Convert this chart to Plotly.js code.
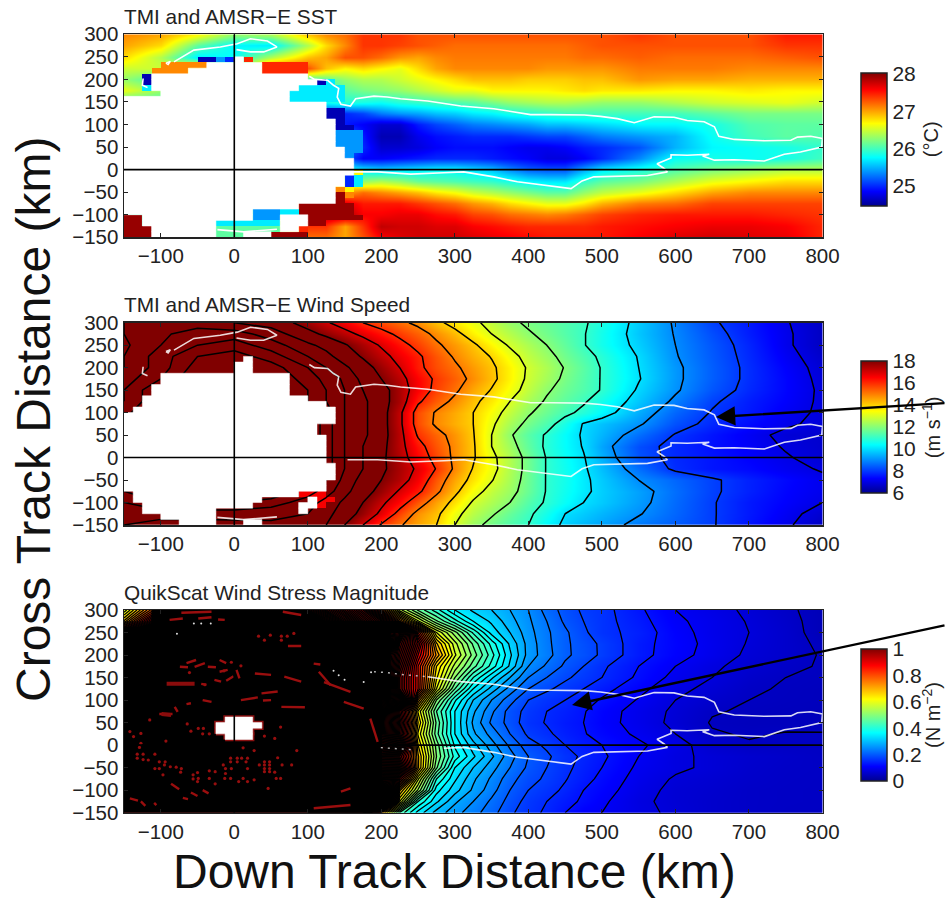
<!DOCTYPE html>
<html>
<head>
<meta charset="utf-8">
<script src="https://cdn.plot.ly/plotly-3.0.1.min.js"></script>
<style>html,body{margin:0;padding:0;background:#fff;overflow:hidden}#chart{width:946px;height:899px}</style>
</head>
<body>
<div id="chart"></div>
<script>
// ---------- grid axes (km) ----------
const gridX = [-150,-100,-50,0,50,100,125,150,175,200,225,250,275,300,325,350,375,400,425,450,475,500,550,600,650,700,750,800];
const gridY = [300,275,250,225,200,175,150,125,100,75,50,25,0,-25,-50,-75,-100,-125,-150];

// ---------- SST (deg C) ----------
const sstZ = [
[27.1,27,26.7,26.3,26.4,26.9,27.1,27.2,27.4,27.4,27.4,27.3,27.3,27.3,27.3,27.3,27.3,27.3,27.3,27.3,27.3,27.3,27.4,27.3,27.3,27.3,27.5,27.5],
[27,26.8,26.1,25.75,25.7,26.4,26.8,27.1,27.4,27.4,27.35,27.3,27.25,27.2,27.2,27.2,27.2,27.2,27.2,27.2,27.25,27.3,27.3,27.3,27.3,27.3,27.4,27.4],
[26.8,26.4,25.7,25.8,26.4,26.9,27,27.3,27.3,27.2,27.05,27,27.1,27.15,27.15,27.15,27.15,27.15,27.15,27.15,27.2,27.2,27.25,27.2,27.2,27.2,27.25,27.3],
[26.5,26.5,26.9,26,27.4,27.3,26.9,26.7,26.8,26.7,26.6,26.8,27,27.1,27.1,27.1,27.1,27.1,27.05,27.05,27.05,27.05,27.15,27.15,27.15,27.1,27.1,27.1],
[26.3,26,26,26,26,26,26.1,26.3,26.4,26.4,26.5,26.6,26.7,26.8,26.9,26.9,26.9,26.85,26.85,26.85,26.9,26.9,27.05,27,27,26.95,26.95,26.95],
[26.6,26.3,26,26,26,25.8,25.8,26.1,26.2,26.25,26.3,26.4,26.5,26.6,26.6,26.7,26.7,26.7,26.7,26.75,26.8,26.75,26.75,26.7,26.7,26.75,26.7,26.7],
[26,26,26,26,26,25.8,25.8,25.9,25.85,25.8,25.9,25.95,26,26.05,26.1,26.2,26.3,26.35,26.4,26.4,26.35,26.3,26.3,26.4,26.5,26.55,26.6,26.5],
[26,26,26,26,26,25,25,25,25.1,25.3,25.4,25.45,25.55,25.6,25.7,25.75,25.85,25.9,25.95,26,26,26,26,26,26.1,26.2,26.2,26.2],
[26,26,26,26,26,24.8,24.8,24.95,24.85,24.7,24.7,24.95,25.1,25.2,25.3,25.35,25.4,25.45,25.55,25.55,25.6,25.65,25.75,25.75,25.85,26.05,26.1,26.1],
[26,26,26,26,26,25.4,25.4,25.4,24.95,24.6,24.6,24.8,24.9,24.95,25,25,25,25.05,25.1,25.1,25.2,25.3,25.4,25.5,25.8,26,26.1,26.05],
[26,26,26,26,26,25.4,25.4,25.4,25,24.7,24.7,24.75,24.85,24.9,24.9,24.9,24.85,24.8,24.8,24.85,24.95,25,25.15,25.5,25.75,25.8,25.85,25.95],
[26,26,26,26,26,25.2,25.2,25.2,24.85,24.85,24.9,24.95,25,25,25,24.95,24.9,24.85,24.75,24.75,24.85,25,25.35,25.8,25.85,25.8,25.85,26],
[26,26,26,26,26,25.8,25.8,25.8,25.7,25.6,25.65,25.7,25.75,25.75,25.65,25.55,25.35,25.2,25.15,25.15,25.45,25.7,25.85,26.05,26.2,26.3,26.4,26.4],
[26,26,26,26,26,26.5,26.5,26.5,26.3,26.4,26.3,26.15,26.1,26.05,26,25.95,25.85,25.75,25.7,25.7,25.95,26.1,26.2,26.4,26.6,26.7,26.8,26.8],
[26,26,26,26,26,27,27,27,27.2,27.1,27,26.9,26.75,26.65,26.5,26.4,26.3,26.2,26.1,26.1,26.3,26.45,26.6,26.8,27,27.1,27.1,27.1],
[26,26,26,26,26,27.7,27.7,27.7,27.5,27.5,27.5,27.4,27.3,27.2,27.05,26.95,26.8,26.7,26.6,26.6,26.75,26.95,27.15,27.2,27.35,27.35,27.35,27.35],
[26,26,26,26,26,27.9,27.9,27.9,27.6,27.6,27.65,27.65,27.55,27.5,27.35,27.3,27.2,27.15,27.1,27.15,27.25,27.35,27.45,27.5,27.5,27.5,27.45,27.4],
[26,26,26,26,26,27.4,27.4,27,27.4,27.8,27.75,27.75,27.7,27.7,27.6,27.55,27.5,27.45,27.45,27.45,27.45,27.5,27.55,27.6,27.65,27.65,27.6,27.45],
[26,26,26,26,26,27.2,27.2,27,27.3,27.6,27.7,27.75,27.75,27.75,27.7,27.65,27.6,27.55,27.5,27.5,27.5,27.5,27.6,27.7,27.75,27.7,27.65,27.45]
];

// ---------- wind speed (m/s) ----------
const windZ = [
[19,19.5,19.5,19,18.6,17.6,17.1,16.6,16,15.6,15.2,14.8,14.2,13.7,13.2,12.7,12.2,11.85,11.6,11.35,11.1,10.7,9.75,8.9,8.1,7.6,7.05,6.6],
[19,19.8,20.5,20.5,19.5,18.3,17.8,17.3,16.8,16.3,15.8,15.35,14.8,14.25,13.6,13,12.55,12.1,11.75,11.4,11.05,10.6,9.7,8.95,8.25,7.65,7.1,6.6],
[18.8,20,21,21.5,20.5,19.2,18.7,18.1,17.5,16.9,16.3,15.75,15.15,14.65,14.15,13.5,12.9,12.45,12,11.55,11.05,10.6,9.8,9,8.35,7.75,7.1,6.6],
[19,20.5,22,22.5,21.5,20,19.3,18.5,17.9,17.3,16.7,16.15,15.5,14.9,14.4,13.95,13.3,12.7,12.25,11.75,11.3,10.85,9.95,9.05,8.4,7.8,7.2,6.7],
[19,20.5,22.5,23,22.5,21,20,19.2,18.4,17.7,17,16.2,15.6,15.15,14.65,14.15,13.55,12.9,12.45,11.95,11.45,10.95,10,9.15,8.45,7.85,7.3,6.8],
[19.5,21,23,23,23,21.5,20.7,19.8,18.7,18,17.3,16.5,15.85,15.35,14.8,14.2,13.55,12.85,12.35,11.85,11.4,10.95,10.05,9.15,8.45,7.85,7.35,6.85],
[20,22,23,23,23,22,21,20,19,18.4,17.5,16.55,15.75,15.15,14.5,13.95,13.35,12.7,12.1,11.7,11.35,10.95,9.9,9.1,8.35,7.8,7.35,6.9],
[20,22,23,23,23,22,21,20,19.2,18.4,17.5,16.15,15.4,14.8,14.2,13.65,13,12.4,11.9,11.5,11.1,10.6,9.7,8.85,8.1,7.65,7.3,6.9],
[20.5,23,23,23,23,22.5,21.5,20,19.2,18.4,17.2,15.6,14.9,14.45,14,13.35,12.7,12.1,11.65,11.2,10.8,10.35,9.4,8.55,7.95,7.6,7.2,6.9],
[22,23,23,23,23,23,21.5,20,19.2,18.4,17.2,15.6,14.85,14.4,14,13.15,12.4,11.8,11.3,10.65,9.95,9.65,9.1,8.3,7.8,7.45,7.1,6.85],
[22,23,23,23,23,23,21.5,20,19.2,18.4,17.3,15.9,15.3,14.7,14.05,13,12.1,11.45,10.9,10.4,9.9,9.5,8.65,7.95,7.55,7.2,6.85,6.75],
[22,23,23,23,23,23,21.5,20,19,18.3,17.3,16.3,15.5,14.8,14.1,13,12.3,11.55,10.85,10.4,9.95,9.3,8.25,7.8,7.5,7.25,6.95,6.75],
[22,23,23,23,23,23,21.5,20,19,18.2,17.4,16.5,15.7,14.8,14.1,13.2,12.5,11.75,10.95,10.5,10.05,9.45,8.3,7.8,7.55,7.3,7.05,6.8],
[22,23,23,23,23,23,21.5,20,19,18.2,17.5,16.85,15.95,14.85,13.95,13.25,12.5,11.75,10.95,10.55,10.1,9.6,8.65,7.85,7.55,7.4,7.15,6.95],
[22,23,23,23,23,23,21,19.7,18.6,18,17.4,16.6,15.5,14.5,13.75,13.05,12.4,11.7,10.95,10.6,10.15,9.75,9,8.55,8.1,7.7,7.4,7.1],
[22,23,23,23,23,21.5,20.5,19.3,18.4,17.7,16.9,16.2,15.2,14.2,13.35,12.7,12.25,11.65,10.95,10.55,10.15,9.8,9.25,8.65,8.1,7.7,7.35,7.1],
[21,22,22,22,21.5,20.5,19.6,18.8,18,17.2,16.4,15.45,14.55,13.75,12.9,12.45,12,11.4,10.9,10.45,10,9.75,9.2,8.6,8.05,7.6,7.3,7],
[20.3,20.5,20.5,20.5,20.3,20,19.3,18.5,17.7,16.8,15.7,14.75,14.2,13.25,12.6,12.1,11.6,11.15,10.6,10,9.75,9.5,9.05,8.55,8.05,7.6,7.2,6.75],
[20,19.5,19.5,19.6,19.8,19.7,19,18,17,15.9,15.1,14.5,14,13,12.25,11.75,11.35,11,10.35,9.85,9.55,9.3,8.8,8.45,8.05,7.55,7.1,6.6]
];

// ---------- wind stress (N/m2) ----------
const stressZ = [
[.58,.85,3,4,3,1.7,1.5,1.3,1.1,.8,.56,.47,.41,.35,.32,.3,.275,.25,.215,.19,.17,.16,.13,.1,.085,.07,.055,.04],
[.68,1.05,4,4,4,2.2,1.8,1.5,1.25,1.05,.75,.58,.48,.41,.35,.32,.285,.255,.225,.195,.175,.16,.135,.105,.09,.073,.058,.04],
[1,2.5,4,4,4,4,3,2.4,2,1.7,1.35,.85,.6,.51,.42,.34,.3,.26,.23,.205,.18,.16,.14,.11,.09,.075,.06,.04],
[4,4,4,4,4,4,4,3,2.5,2.2,1.2,.95,.68,.56,.47,.39,.32,.265,.232,.205,.188,.17,.135,.112,.092,.073,.06,.045],
[4,4,4,4,4,4,4,3,2.5,1.5,1.15,.9,.72,.58,.49,.41,.33,.265,.235,.205,.19,.17,.135,.11,.09,.07,.06,.048],
[4,4,4,4,4,4,4,3,2.5,1.5,1.1,.85,.65,.54,.46,.39,.32,.25,.22,.195,.175,.155,.125,.1,.08,.065,.055,.048],
[4,4,4,4,4,4,4,3,2.5,1.5,1.05,.85,.63,.5,.4,.33,.275,.225,.2,.18,.165,.15,.12,.092,.075,.058,.05,.047],
[4,4,4,4,4,4,4,3,2.5,1.5,1.05,.85,.6,.45,.35,.29,.24,.2,.18,.165,.15,.135,.108,.082,.068,.053,.048,.045],
[4,4,4,4,4,4,4,3,2.5,1.7,1.3,.72,.5,.38,.3,.25,.21,.175,.16,.15,.137,.122,.098,.075,.06,.05,.047,.045],
[4,4,4,4,4,4,4,3,2.5,1.4,.95,.62,.45,.35,.28,.23,.19,.165,.15,.14,.127,.112,.09,.07,.052,.047,.045,.043],
[4,4,4,4,4,4,4,3,2.5,1.4,1,.65,.47,.35,.27,.22,.19,.16,.148,.135,.125,.11,.09,.068,.048,.045,.045,.044],
[4,4,4,4,4,4,4,3,2.5,1.4,.97,.62,.46,.35,.28,.24,.2,.17,.155,.14,.127,.115,.095,.075,.052,.048,.051,.051],
[4,4,4,4,4,4,4,3,2.5,1.5,1.1,.65,.49,.37,.31,.26,.22,.185,.17,.15,.135,.125,.105,.085,.062,.052,.052,.051],
[4,4,4,4,4,4,4,3,2.5,1.4,.95,.68,.5,.39,.33,.28,.235,.2,.18,.16,.145,.13,.1,.08,.07,.062,.057,.052],
[4,4,4,4,4,4,4,3,2.5,1.5,1.05,.68,.48,.35,.3,.26,.225,.195,.175,.157,.14,.125,.095,.08,.07,.06,.055,.053],
[4,4,4,4,4,4,4,3,2.5,1.3,.85,.58,.4,.33,.28,.245,.21,.185,.17,.152,.135,.118,.09,.072,.065,.058,.054,.052],
[4,4,4,4,4,4,4,3,2.5,1.6,.68,.52,.36,.31,.27,.235,.2,.175,.16,.145,.125,.112,.085,.068,.062,.055,.053,.052],
[4,4,4,4,4,4,4,3,2.3,1.3,.6,.4,.33,.28,.25,.22,.19,.165,.15,.135,.12,.105,.08,.068,.06,.055,.053,.052],
[4,4,4,4,4,4,3.5,2.8,2,.68,.42,.34,.29,.26,.235,.21,.18,.16,.145,.125,.105,.1,.082,.07,.06,.055,.052,.051]
];

// ---------- fine cells near the storm: one char per 12.5 km cell ----------
// '.' = keep field below, '_' = no data (white), '#' = contours too dense to see colour, letters = read value
const sstCodes = {n:24.6,b:25,l:25.4,c:25.7,g:26.1,y:26.7,o:27.1,r:27.45,m:27.95};
const sstCells = [
"","","","",
"........nnlb_r",
"....ooooo______rrrrr",
"...oooo________rrrrr",
"..n_________________",
"..n__________________nc",
"..c________________ccccc",
"....______________cccccc",
"__________________cccccc",
"______________________",
"______________________nn",
"______________________nn",
"_______________________n",
"_______________________nn",
"_______________________lll",
"_______________________lll",
"_______________________lll",
"________________________ll",
"________________________l",
"_________________________",
"_________________________",
"_________________________y",
"________________________bc",
"________________________bc",
"_______________________oy",
"_______________________mo",
"_______________________m",
"___________________mmmmmm",
"______________lllccmmmmmm",
"mm____________lll___mmmmmm",
"mm________ccccccc___mm",
"mmm_______ggggggg__r",
"mmm_______ggg___mmmm"
];
const windCodes = {r:16.6,m:18};
const windCells = [
"","","","","","",
"............._",
"............__",
"............__",
"....______________",
"....______________",
"..._______________",
"..._______________",
"..__________________",
"..____________________",
".______________________",
"_______________________",
"_______________________",
"_____________________",
"_____________________",
"______________________",
"______________________",
"______________________",
"______________________",
"______________________",
"_______________________",
"_______________________",
"_______________________",
"______________________",
"______________________",
".__________________rrr",
".______________....._rr",
"..____________.....__r",
"..________........._",
"....______",
"......____...__"
];
const stressCodes = {};
const stressCells = [
"...##############",
"...##############",
"...################",
"#########################",
"#############################",
"#############################",
"#############################",
"#############################",
"#############################",
"#############################",
"#############################",
"#############################",
"#############################",
"#############################",
"#############################",
"#############################",
"############################",
"############################",
"############################",
"###########___##############",
"##########_____#############",
"##########____##############",
"###########___##############",
"############################",
"############################",
"############################",
"############################",
"############################",
"############################",
"############################",
"############################",
"############################",
"############################",
"###########################",
"###########################",
"###########################"
];

// ---------- 26 deg isotherm, read in km (shared by all panels) ----------
const isoX = [102,109,127,135,142,140,145,158,165,190,208,226,263,308,353,403,430,476,498,521,544,557,571,598,616,639,653,659,680,721,757,766,784,800,799,770,748,721,680,653,637,646,616,594,594,575,585,589,562,489,473,458,421,385,353,312,285,240,195,154,null,
 -82,-73,-55,-19,4,22,45,58,40,22,3,null,-93,-87,-90,-93,null,-124,-125,-118,null,-23,13,58];
const isoY = [207,200,198,187,180,161,145,141,157,163,161,157,152,141,135,122,122,121,118,113,104,111,117,116,109,106,95,74,67,64,65,72,74,69,50,39,34,19,22,21,30,34,32,33,26,13,2,-5,-13,-16,-25,-42,-35,-27,-16,-5,-7,-10,-5,-5,null,
 239,248,265,272,279,290,285,272,261,261,266,null,236,240,233,236,null,202,187,182,null,-133,-138,-132];

// ---------- red flecks seen through the dense contours of the stress panel ----------
const streakX = [-65,-52,null,-74,-63,null,-54,-40,null,-36,-25,null,-20,-11,null,-20,-9,null,-11,-1,null,3,7,null,28,50,null,-27,-18,null,-45,-38,null,-43,-31,null,9,32,null,37,59,null,39,50,null,-81,-77,null,-102,-84,null,-65,-59,null,68,91,null,66,91,null,-49,-31,null,-22,-13,null,-72,-31,null,73,91,null,-88,-70,null,64,96,null,
 -86,-75,null,-43,-35,null,-70,-63,null,-59,-50,null,-142,-131,null,-127,-121,null,-109,-106,null,
 115,131,null,122,158,null,108,117,null,145,158,null,185,195,null,108,158,null,149,176];
const streakY = [182,189,null,174,173,null,174,182,null,174,173,null,189,182,null,163,167,null,143,153,null,167,148,null,159,156,null,145,141,null,136,134,null,100,96,null,100,106,null,115,119,null,99,100,null,85,74,null,69,69,null,91,93,null,152,141,null,296,289,null,281,284,null,279,278,null,294,296,null,220,220,null,278,281,null,85,84,null,
 -86,-98,null,-100,-107,null,-117,-120,null,-105,-113,null,-118,-123,null,-125,-135,null,-128,-133,null,
 163,133,null,140,118,null,181,179,null,-103,-96,null,59,7,null,-140,-133,null,96,81];
const blobX = [-92,-54,null,-99,-86];
const blobY = [136,136,null,69,67];
const dotX = [33,49,41,64,72,64,81,9,-4,-61,-40,-14,-115,-64,-49,-42,-59,-34,-43,-142,-137,-127,-129,-127,-93,-108,-132,-124,-132,-124,-117,-102,-94,-95,-102,-108,-87,-79,-72,-73,-97,-50,-56,-56,-49,-50,-34,-34,-26,-26,-15,-12,-4,-12,-13,-5,6,12,18,18,27,-5,-5,4,4,10,16,18,34,41,41,41,41,48,48,48,48,55,57,63,65,78,46,12,27,41,55,63,59,85];
const dotY = [242,244,233,242,242,233,248,176,184,161,134,165,56,47,37,37,31,25,25,30,19,26,-5,4,9,-20,-20,-20,-29,-32,-33,-37,-37,-44,-52,-52,-48,-49,-52,-60,-66,-61,-66,-75,-74,-81,-57,-74,-59,-86,-44,-52,-52,-63,-74,-74,-81,-74,-52,-81,-77,-29,-37,-29,-37,-29,-37,-29,-44,-37,-44,-52,-59,-37,-44,-52,-59,-60,-74,-74,-44,-44,-96,-6,-12,20,15,40,-28,-12];
const speckX = [-55,-45,-32,-78,135,142,150,176,186];
const speckY = [270,270,270,247,165,155,145,140,162];

// ---------- ticks and labels ----------
const xTicks = [-100,0,100,200,300,400,500,600,700,800];
const yTicks = [-150,-100,-50,0,50,100,150,200,250,300];
const panelTitles = ["TMI and AMSR\u2212E SST","TMI and AMSR\u2212E Wind Speed","QuikScat Wind Stress Magnitude"];
const barUnits = ["(\u00b0C)","(m s<sup>\u22121</sup>)","(N m<sup>\u22122</sup>)"];
const barTicks = [[25,26,27,28],[6,8,10,12,14,16,18],[0,0.2,0.4,0.6,0.8,1]];

const W = 946, H = 899;
const px = v => v / W, py = v => 1 - v / H;
const jet = [[0,'rgb(0,0,143)'],[0.11,'rgb(0,0,255)'],[0.365,'rgb(0,255,255)'],[0.62,'rgb(255,255,0)'],[0.875,'rgb(255,0,0)'],[1,'rgb(128,0,0)']];

const panels = [
  {top:34.3,bottom:237.3,barTop:72.7,barBottom:205.7,z:sstZ,range:[24.47,28.03],cells:sstCells,codes:sstCodes},
  {top:322.7,bottom:525,barTop:361,barBottom:493.3,z:windZ,range:[6,18],cells:windCells,codes:windCodes,levels:{start:7,end:24,size:1}},
  {top:610,bottom:812.7,barTop:649,barBottom:781,z:stressZ,range:[0,1],cells:stressCells,codes:stressCodes,levels:{start:0.025,end:4,size:0.025}}
];

const cellX = Array.from({length:31},(_,j)=>-150+6.25+12.5*j);
const cellY = Array.from({length:36},(_,i)=>300-6.25-12.5*i);
function decode(rows, test){
  return cellY.map((_,i)=>cellX.map((_,j)=>{
    const c=(rows[i]||"")[j];
    return c===undefined ? null : test(c);
  }));
}
// rectangles (in km) for runs of a given char, drawn through the axes as filled scatter
function runs(rows, ch){
  const X=[],Y=[];
  rows.forEach((r,i)=>{
    let j=0;
    while(j<r.length){
      if(r[j]===ch){
        let e=j; while(e+1<r.length&&r[e+1]===ch) e++;
        const x0=-150+12.5*j,x1=-150+12.5*(e+1),y1=300-12.5*i,y0=y1-12.5;
        X.push(x0,x1,x1,x0,x0,null); Y.push(y0,y0,y1,y1,y0,null);
        j=e+1;
      } else j++;
    }
  });
  return {X,Y};
}
const traces=[], shapes=[], annotations=[], layout={};
panels.forEach((p,k)=>{
  const n=k+1, xa='x'+(k?n:''), ya='y'+(k?n:'');
  traces.push({type:'heatmap',x:gridX,y:gridY,z:p.z,xaxis:xa,yaxis:ya,zsmooth:'best',colorscale:jet,zmin:p.range[0],zmax:p.range[1],hoverinfo:'skip',
    showscale:true,
    colorbar:{x:px(861),xanchor:'left',xpad:0,y:py(p.barTop),yanchor:'top',ypad:0,len:(p.barBottom-p.barTop)/H,lenmode:'fraction',thickness:26,thicknessmode:'pixels',
      tickmode:'array',tickvals:barTicks[k],ticks:'',outlinewidth:1.5,outlinecolor:'#222',tickfont:{family:'Liberation Sans',size:21,color:'#222'}}});
  if(p.levels){
    traces.push({type:'contour',x:gridX,y:gridY,z:p.z,xaxis:xa,yaxis:ya,showscale:false,hoverinfo:'skip',autocontour:false,
      contours:{coloring:'none',start:p.levels.start,end:p.levels.end,size:p.levels.size},line:{color:'#000',width:k==1?1.5:1.3,smoothing:0}});
  }
  // value cells
  if(k<2) traces.push({type:'heatmap',x:cellX,y:cellY,z:decode(p.cells,c=>p.codes[c]===undefined?null:p.codes[c]),xaxis:xa,yaxis:ya,colorscale:jet,zmin:p.range[0],zmax:p.range[1],showscale:false,hoverinfo:'skip'});
  if(k==2){
    const b=runs(p.cells,'#');
    traces.push({type:'scatter',mode:'lines',x:b.X,y:b.Y,xaxis:xa,yaxis:ya,fill:'toself',fillcolor:'#000',line:{color:'#000',width:0.5},hoverinfo:'skip',showlegend:false});
    traces.push({type:'scatter',mode:'lines',x:streakX,y:streakY,xaxis:xa,yaxis:ya,line:{color:'#9a0e0e',width:2.4},hoverinfo:'skip',showlegend:false});
    traces.push({type:'scatter',mode:'lines',x:blobX,y:blobY,xaxis:xa,yaxis:ya,line:{color:'#8a0c0c',width:4},hoverinfo:'skip',showlegend:false});
    traces.push({type:'scatter',mode:'markers',x:dotX,y:dotY,xaxis:xa,yaxis:ya,marker:{color:'#960e0e',size:3.2},hoverinfo:'skip',showlegend:false});
    traces.push({type:'scatter',mode:'markers',x:speckX,y:speckY,xaxis:xa,yaxis:ya,marker:{color:'#ddd',size:2},hoverinfo:'skip',showlegend:false});
  }
  // no-data cells, above the contours
  const w=runs(p.cells,'_');
  if(k==2) traces.push({type:'scatter',mode:'lines',x:w.X,y:w.Y,xaxis:xa,yaxis:ya,line:{color:'#8a1010',width:3.5},hoverinfo:'skip',showlegend:false});
  traces.push({type:'scatter',mode:'lines',x:w.X,y:w.Y,xaxis:xa,yaxis:ya,fill:'toself',fillcolor:'#fff',line:{color:'#fff',width:0.5},hoverinfo:'skip',showlegend:false});
  // isotherm
  if(k<2){
    traces.push({type:'scatter',mode:'lines',x:isoX,y:isoY,xaxis:xa,yaxis:ya,line:{color:k==0?'#fff':'rgba(255,255,255,0.85)',width:1.6},hoverinfo:'skip',showlegend:false});
  } else {
    const solid=isoX.map((v,i)=>(v!==null&&v>=263&&i<60)?v:null);
    const dotted=isoX.map((v,i)=>(v!==null&&v>=190&&v<=263&&i<60)?v:null);
    traces.push({type:'scatter',mode:'lines',x:solid,y:isoY,xaxis:xa,yaxis:ya,line:{color:'rgba(255,255,255,0.85)',width:1.6},hoverinfo:'skip',showlegend:false});
    traces.push({type:'scatter',mode:'lines',x:dotted,y:isoY,xaxis:xa,yaxis:ya,line:{color:'rgba(255,255,255,0.7)',width:1.4,dash:'2px,5px'},hoverinfo:'skip',showlegend:false});
  }

  const axis={showgrid:false,zeroline:false,showline:true,linecolor:'#222',linewidth:1.5,mirror:'ticks',ticks:'inside',ticklen:4,tickcolor:'#222',tickwidth:1,
    tickfont:{family:'Liberation Sans',size:20.5,color:'#222'},tickmode:'array'};
  layout['xaxis'+(k?n:'')]=Object.assign({},axis,{domain:[px(124),px(822.5)],range:[-150,800],tickvals:xTicks,anchor:ya});
  layout['yaxis'+(k?n:'')]=Object.assign({},axis,{domain:[py(p.bottom),py(p.top)],range:[-150,300],tickvals:yTicks,anchor:xa});
  shapes.push({type:'line',xref:xa,yref:ya,x0:0,x1:0,y0:-150,y1:300,line:{color:'#000',width:1.6},layer:'above'});
  shapes.push({type:'line',xref:xa,yref:ya,x0:-150,x1:800,y0:0,y1:0,line:{color:'#000',width:1.6},layer:'above'});
  annotations.push({xref:'paper',yref:'paper',x:px(122),y:py(p.top-18),xanchor:'left',yanchor:'middle',showarrow:false,text:panelTitles[k],font:{family:'Liberation Sans',size:20.8,color:'#222'}});
  annotations.push({xref:'paper',yref:'paper',x:px(931),y:py((p.barTop+p.barBottom)/2),xanchor:'center',yanchor:'middle',textangle:-90,showarrow:false,text:barUnits[k],font:{family:'Liberation Sans',size:20,color:'#222'}});
});
annotations.push({xref:'paper',yref:'paper',x:px(33),y:py(420),xanchor:'center',yanchor:'middle',textangle:-90,showarrow:false,text:'Cross Track Distance (km)',font:{family:'Liberation Sans',size:48,color:'#111'}});
annotations.push({xref:'paper',yref:'paper',x:px(454),y:py(871),xanchor:'center',yanchor:'middle',showarrow:false,text:'Down Track Distance (km)',font:{family:'Liberation Sans',size:48,color:'#111'}});
annotations.push({xref:'paper',yref:'paper',x:px(716),y:py(417),ax:240,ay:-14,axref:'pixel',ayref:'pixel',text:'',showarrow:true,arrowhead:2,arrowsize:1.6,arrowwidth:2.4,arrowcolor:'#000'});
annotations.push({xref:'paper',yref:'paper',x:px(572),y:py(705),ax:385,ay:-80,axref:'pixel',ayref:'pixel',text:'',showarrow:true,arrowhead:2,arrowsize:1.6,arrowwidth:2.4,arrowcolor:'#000'});

Object.assign(layout,{width:W,height:H,margin:{l:0,r:0,t:0,b:0,pad:0},paper_bgcolor:'#fff',plot_bgcolor:'#fff',showlegend:false,shapes,annotations,font:{family:'Liberation Sans'}});
Plotly.newPlot('chart',traces,layout,{displayModeBar:false,staticPlot:true});
</script>
</body>
</html>
